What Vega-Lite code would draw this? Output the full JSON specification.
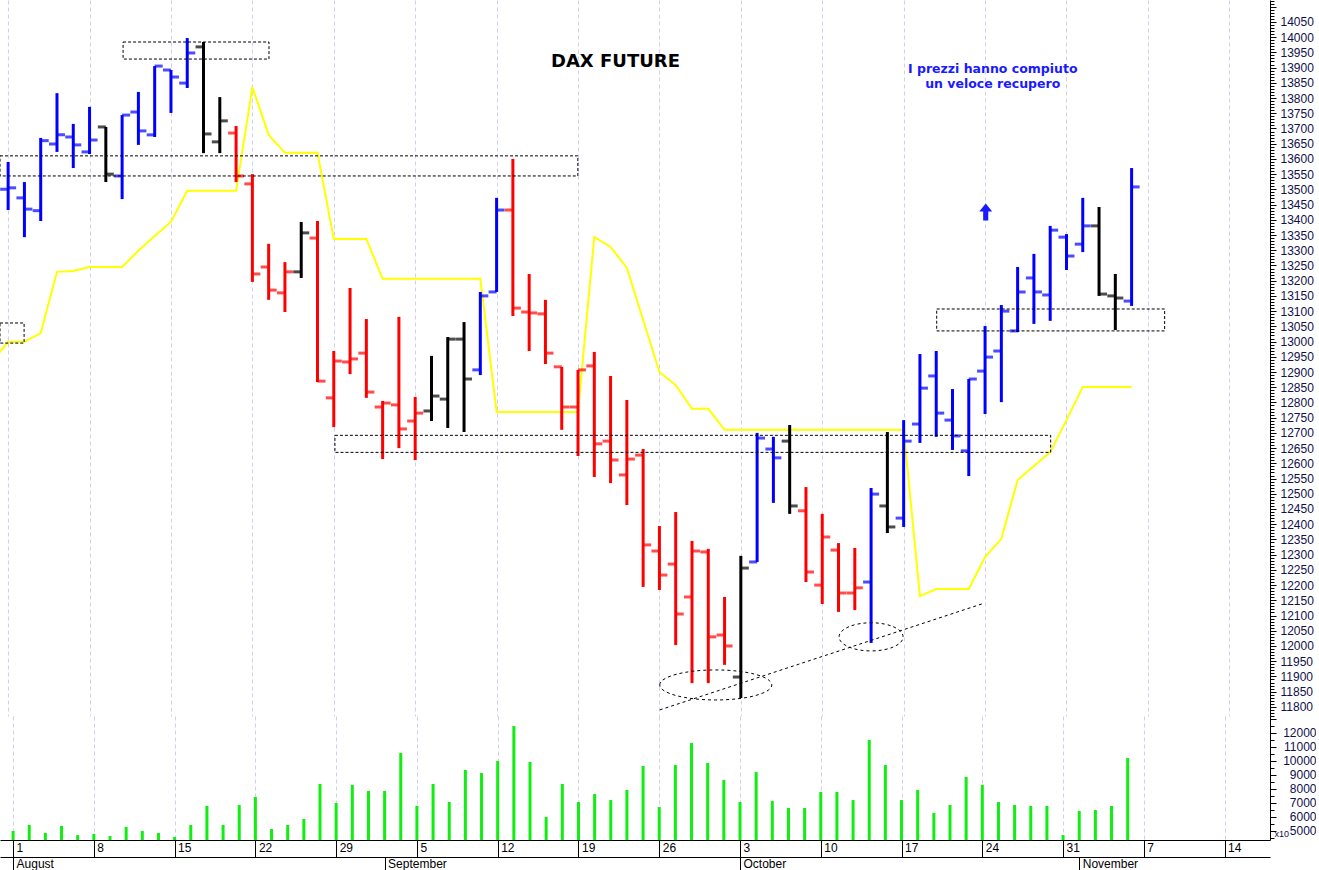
{
  "$schema": "https://vega.github.io/schema/vega-lite/v6.json",
  "padding": 0,
  "spacing": 0,
  "bounds": "flush",
  "background": "white",
  "config": {"view": {"stroke": null}, "axis": {"labelFont": "Liberation Sans", "titleFont": "Liberation Sans"}},
  "datasets": {
    "ohlc": [
      {"i":0,"date":"2022-08-01","o":13500,"h":13590,"l":13432,"c":13505,"t":"blue","v":5000},
      {"i":1,"date":"2022-08-02","o":13472,"h":13524,"l":13343,"c":13435,"t":"blue","v":5430},
      {"i":2,"date":"2022-08-03","o":13430,"h":13669,"l":13396,"c":13660,"t":"blue","v":4860},
      {"i":3,"date":"2022-08-04","o":13649,"h":13816,"l":13623,"c":13679,"t":"blue","v":5360},
      {"i":4,"date":"2022-08-05","o":13672,"h":13715,"l":13570,"c":13646,"t":"blue","v":4710},
      {"i":5,"date":"2022-08-08","o":13623,"h":13771,"l":13616,"c":13662,"t":"blue","v":4790},
      {"i":6,"date":"2022-08-09","o":13705,"h":13705,"l":13524,"c":13550,"t":"black","v":4640},
      {"i":7,"date":"2022-08-10","o":13544,"h":13744,"l":13468,"c":13744,"t":"blue","v":5290},
      {"i":8,"date":"2022-08-11","o":13754,"h":13820,"l":13646,"c":13692,"t":"blue","v":5000},
      {"i":9,"date":"2022-08-12","o":13679,"h":13905,"l":13672,"c":13905,"t":"blue","v":4860},
      {"i":10,"date":"2022-08-15","o":13892,"h":13892,"l":13751,"c":13869,"t":"blue","v":4570},
      {"i":11,"date":"2022-08-16","o":13849,"h":13997,"l":13833,"c":13948,"t":"blue","v":5430},
      {"i":12,"date":"2022-08-17","o":13968,"h":13984,"l":13619,"c":13682,"t":"black","v":6790},
      {"i":13,"date":"2022-08-18","o":13656,"h":13803,"l":13619,"c":13725,"t":"black","v":5430},
      {"i":14,"date":"2022-08-19","o":13685,"h":13708,"l":13524,"c":13544,"t":"red","v":6860},
      {"i":15,"date":"2022-08-22","o":13518,"h":13550,"l":13196,"c":13222,"t":"red","v":7430},
      {"i":16,"date":"2022-08-23","o":13245,"h":13321,"l":13137,"c":13169,"t":"red","v":5140},
      {"i":17,"date":"2022-08-24","o":13160,"h":13261,"l":13097,"c":13229,"t":"red","v":5430},
      {"i":18,"date":"2022-08-25","o":13229,"h":13393,"l":13209,"c":13357,"t":"black","v":5860},
      {"i":19,"date":"2022-08-26","o":13340,"h":13396,"l":12867,"c":12870,"t":"red","v":8360},
      {"i":20,"date":"2022-08-29","o":12815,"h":12969,"l":12719,"c":12936,"t":"red","v":7000},
      {"i":21,"date":"2022-08-30","o":12933,"h":13176,"l":12893,"c":12943,"t":"red","v":8290},
      {"i":22,"date":"2022-08-31","o":12962,"h":13074,"l":12815,"c":12834,"t":"red","v":7860},
      {"i":23,"date":"2022-09-01","o":12785,"h":12805,"l":12614,"c":12798,"t":"red","v":7860},
      {"i":24,"date":"2022-09-02","o":12792,"h":13081,"l":12650,"c":12713,"t":"red","v":10570},
      {"i":25,"date":"2022-09-05","o":12739,"h":12818,"l":12611,"c":12765,"t":"red","v":6790},
      {"i":26,"date":"2022-09-06","o":12772,"h":12953,"l":12739,"c":12821,"t":"black","v":8360},
      {"i":27,"date":"2022-09-07","o":12811,"h":13015,"l":12716,"c":13008,"t":"black","v":7070},
      {"i":28,"date":"2022-09-08","o":13008,"h":13064,"l":12703,"c":12877,"t":"black","v":9360},
      {"i":29,"date":"2022-09-09","o":12907,"h":13163,"l":12890,"c":13150,"t":"blue","v":9140},
      {"i":30,"date":"2022-09-12","o":13163,"h":13472,"l":13163,"c":13432,"t":"blue","v":10000},
      {"i":31,"date":"2022-09-13","o":13432,"h":13600,"l":13084,"c":13110,"t":"red","v":12500},
      {"i":32,"date":"2022-09-14","o":13097,"h":13222,"l":12969,"c":13094,"t":"red","v":9930},
      {"i":33,"date":"2022-09-15","o":13091,"h":13137,"l":12926,"c":12962,"t":"red","v":6000},
      {"i":34,"date":"2022-09-16","o":12917,"h":12917,"l":12710,"c":12785,"t":"red","v":8360},
      {"i":35,"date":"2022-09-19","o":12785,"h":12907,"l":12624,"c":12907,"t":"red","v":7070},
      {"i":36,"date":"2022-09-20","o":12920,"h":12966,"l":12555,"c":12664,"t":"red","v":7640},
      {"i":37,"date":"2022-09-21","o":12673,"h":12887,"l":12535,"c":12611,"t":"red","v":7210},
      {"i":38,"date":"2022-09-22","o":12562,"h":12808,"l":12463,"c":12614,"t":"red","v":7930},
      {"i":39,"date":"2022-09-23","o":12627,"h":12647,"l":12194,"c":12332,"t":"red","v":9640},
      {"i":40,"date":"2022-09-26","o":12312,"h":12394,"l":12184,"c":12233,"t":"red","v":6710},
      {"i":41,"date":"2022-09-27","o":12269,"h":12440,"l":12003,"c":12105,"t":"red","v":9710},
      {"i":42,"date":"2022-09-28","o":12161,"h":12345,"l":11878,"c":12312,"t":"red","v":11290},
      {"i":43,"date":"2022-09-29","o":12309,"h":12319,"l":11878,"c":12030,"t":"red","v":9860},
      {"i":44,"date":"2022-09-30","o":12036,"h":12161,"l":11938,"c":12000,"t":"red","v":8640},
      {"i":45,"date":"2022-10-03","o":11898,"h":12296,"l":11829,"c":12256,"t":"black","v":7070},
      {"i":46,"date":"2022-10-04","o":12276,"h":12700,"l":12276,"c":12683,"t":"blue","v":9210},
      {"i":47,"date":"2022-10-05","o":12647,"h":12687,"l":12470,"c":12618,"t":"blue","v":7140},
      {"i":48,"date":"2022-10-06","o":12673,"h":12726,"l":12434,"c":12460,"t":"black","v":6640},
      {"i":49,"date":"2022-10-07","o":12444,"h":12522,"l":12210,"c":12243,"t":"red","v":6640},
      {"i":50,"date":"2022-10-10","o":12200,"h":12434,"l":12138,"c":12358,"t":"red","v":7790},
      {"i":51,"date":"2022-10-11","o":12315,"h":12338,"l":12112,"c":12174,"t":"red","v":7790},
      {"i":52,"date":"2022-10-12","o":12174,"h":12322,"l":12118,"c":12191,"t":"red","v":7210},
      {"i":53,"date":"2022-10-13","o":12210,"h":12519,"l":12010,"c":12499,"t":"blue","v":11500},
      {"i":54,"date":"2022-10-14","o":12460,"h":12703,"l":12371,"c":12391,"t":"black","v":9710},
      {"i":55,"date":"2022-10-17","o":12420,"h":12742,"l":12391,"c":12673,"t":"blue","v":7210},
      {"i":56,"date":"2022-10-18","o":12729,"h":12959,"l":12667,"c":12847,"t":"blue","v":7930},
      {"i":57,"date":"2022-10-19","o":12887,"h":12969,"l":12687,"c":12765,"t":"blue","v":6290},
      {"i":58,"date":"2022-10-20","o":12742,"h":12844,"l":12644,"c":12690,"t":"blue","v":6860},
      {"i":59,"date":"2022-10-21","o":12641,"h":12877,"l":12558,"c":12877,"t":"blue","v":8860},
      {"i":60,"date":"2022-10-24","o":12903,"h":13051,"l":12762,"c":12949,"t":"blue","v":8290},
      {"i":61,"date":"2022-10-25","o":12969,"h":13120,"l":12801,"c":13100,"t":"blue","v":7070},
      {"i":62,"date":"2022-10-26","o":13035,"h":13245,"l":13031,"c":13163,"t":"blue","v":6860},
      {"i":63,"date":"2022-10-27","o":13209,"h":13288,"l":13058,"c":13163,"t":"blue","v":6790},
      {"i":64,"date":"2022-10-28","o":13153,"h":13380,"l":13068,"c":13366,"t":"blue","v":6790},
      {"i":65,"date":"2022-10-31","o":13343,"h":13353,"l":13235,"c":13281,"t":"blue","v":4710},
      {"i":66,"date":"2022-11-01","o":13320,"h":13472,"l":13294,"c":13380,"t":"blue","v":6430},
      {"i":67,"date":"2022-11-02","o":13380,"h":13442,"l":13150,"c":13156,"t":"black","v":6500},
      {"i":68,"date":"2022-11-03","o":13150,"h":13222,"l":13038,"c":13143,"t":"black","v":6790},
      {"i":69,"date":"2022-11-04","o":13133,"h":13570,"l":13117,"c":13508,"t":"blue","v":10210}
    ],
    "yl": [
      {"i":-1,"y":12933},{"i":0,"y":12999},{"i":1,"y":12999},{"i":2,"y":13028},{"i":3,"y":13229},{"i":4,"y":13232},
      {"i":5,"y":13245},{"i":6,"y":13245},{"i":7,"y":13245},{"i":8,"y":13298},{"i":9,"y":13347},{"i":10,"y":13393},
      {"i":11,"y":13495},{"i":12,"y":13495},{"i":13,"y":13495},{"i":14,"y":13495},{"i":15,"y":13836},{"i":16,"y":13679},
      {"i":17,"y":13620},{"i":18,"y":13620},{"i":19,"y":13620},{"i":20,"y":13337},{"i":21,"y":13337},{"i":22,"y":13337},
      {"i":23,"y":13206},{"i":24,"y":13206},{"i":25,"y":13206},{"i":26,"y":13206},{"i":27,"y":13206},{"i":28,"y":13206},
      {"i":29,"y":13206},{"i":30,"y":12769},{"i":31,"y":12769},{"i":32,"y":12769},{"i":33,"y":12769},{"i":34,"y":12769},
      {"i":35,"y":12769},{"i":36,"y":13344},{"i":37,"y":13311},{"i":38,"y":13242},{"i":39,"y":13071},{"i":40,"y":12900},
      {"i":41,"y":12857},{"i":42,"y":12779},{"i":43,"y":12779},{"i":44,"y":12710},{"i":45,"y":12710},{"i":46,"y":12710},
      {"i":47,"y":12710},{"i":48,"y":12710},{"i":49,"y":12710},{"i":50,"y":12710},{"i":51,"y":12710},{"i":52,"y":12710},
      {"i":53,"y":12710},{"i":54,"y":12710},{"i":55,"y":12710},{"i":56,"y":12164},{"i":57,"y":12187},{"i":58,"y":12187},
      {"i":59,"y":12187},{"i":60,"y":12292},{"i":61,"y":12352},{"i":62,"y":12545},{"i":63,"y":12591},{"i":64,"y":12637},
      {"i":65,"y":12742},{"i":66,"y":12851},{"i":67,"y":12851},{"i":68,"y":12851},{"i":69,"y":12851}
    ],
    "boxes": [
      {"i1":7.06,"i2":16.02,"p1":13984,"p2":13928},
      {"i1":-0.5,"i2":34.99,"p1":13610,"p2":13544},
      {"i1":-0.5,"i2":0.98,"p1":13061,"p2":12995},
      {"i1":20.07,"i2":64.03,"p1":12692,"p2":12636},
      {"i1":57.03,"i2":71.03,"p1":13107,"p2":13035}
    ],
    "trend": [{"i1":40.02,"p1":11790,"i2":59.97,"p2":12141}],
    "ell1": [{"i":43.46,"p":11872}],
    "ell2": [{"i":53.0,"p":12030}],
    "arrow": [{"i":60.04,"p":13426}],
    "title": [{"i":37.3,"p":13918,"txt":"DAX FUTURE"}],
    "note": [
      {"i":60.47,"p":13895,"txt":"I prezzi hanno compiuto"},
      {"i":60.47,"p":13846,"txt":"un veloce recupero"}
    ],
    "months": [{"i":0,"m":"August"},{"i":23,"m":"September"},{"i":45,"m":"October"},{"i":66,"m":"November"}]
  },
  "vconcat": [
    {
      "width": 1270,
      "height": 716,
      "encoding": {
        "x": {"type": "quantitative", "scale": {"domain": [-0.5, 77.5], "nice": false, "zero": false},
              "axis": {"grid": true, "labels": false, "ticks": false, "domain": false, "title": null,
                       "values": [0,5,10,15,20,25,30,35,40,45,50,55,60,65,70,75],
                       "gridColor": "#cfcfee", "gridDash": [4,3], "gridWidth": 1}},
        "y": {"type": "quantitative", "scale": {"domain": [11770, 14122], "nice": false, "zero": false},
              "axis": {"orient": "right", "title": null, "grid": false, "tickCount": 235,
                       "labelExpr": "(datum.value % 50 === 0 && datum.value <= 14050 && datum.value >= 11800) ? format(datum.value, 'd') : ''",
                       "labelOverlap": false, "labelFlush": false, "labelBound": false,
                       "labelFontSize": {"condition": {"test": "datum.value % 50 === 0 && datum.value <= 14050 && datum.value >= 11800", "value": 12}, "value": 0},
                       "tickSize": {"condition": {"test": "datum.value % 50 === 0", "value": 6}, "value": 4},
                       "tickColor": "#000000", "domainColor": "#000000",
                       "labelColor": "#10104a", "labelPadding": 4}}
      },
      "layer": [
        {"data": {"name": "yl"}, "mark": {"type": "line", "color": "#ffff00", "strokeWidth": 2, "clip": true},
         "encoding": {"x": {"field": "i"}, "y": {"field": "y"}}},
        {"data": {"name": "ohlc"}, "mark": {"type": "rule", "strokeWidth": 3},
         "encoding": {"x": {"field": "i"}, "y": {"field": "l"}, "y2": {"field": "h"},
                      "color": {"field": "t", "type": "nominal", "scale": {"domain": ["blue","red","black"], "range": ["#0000ff","#ff0000","#000000"]}, "legend": null}}},
        {"data": {"name": "ohlc"}, "mark": {"type": "tick", "orient": "horizontal", "size": 8, "thickness": 3, "xOffset": -4},
         "encoding": {"x": {"field": "i"}, "y": {"field": "o"},
                      "color": {"field": "t", "type": "nominal", "scale": {"domain": ["blue","red","black"], "range": ["#0000ff","#ff0000","#000000"]}, "legend": null}}},
        {"data": {"name": "ohlc"}, "mark": {"type": "tick", "orient": "horizontal", "size": 8, "thickness": 3, "xOffset": 4},
         "encoding": {"x": {"field": "i"}, "y": {"field": "c"},
                      "color": {"field": "t", "type": "nominal", "scale": {"domain": ["blue","red","black"], "range": ["#0000ff","#ff0000","#000000"]}, "legend": null}}},
        {"data": {"name": "boxes"}, "mark": {"type": "rect", "fillOpacity": 0, "stroke": "#000000", "strokeWidth": 1, "strokeDash": [3,2], "clip": true},
         "encoding": {"x": {"field": "i1"}, "x2": {"field": "i2"}, "y": {"field": "p1"}, "y2": {"field": "p2"}}},
        {"data": {"name": "trend"}, "mark": {"type": "rule", "stroke": "#000000", "strokeWidth": 1, "strokeDash": [3,3]},
         "encoding": {"x": {"field": "i1"}, "x2": {"field": "i2"}, "y": {"field": "p1"}, "y2": {"field": "p2"}}},
        {"data": {"name": "ell1"}, "mark": {"type": "point", "shape": "M -1 0 A 1 0.268 0 1 1 1 0 A 1 0.268 0 1 1 -1 0 Z", "size": 12544, "filled": false, "stroke": "#000000", "strokeWidth": 1, "strokeDash": [3,3], "opacity": 1},
         "encoding": {"x": {"field": "i"}, "y": {"field": "p"}}},
        {"data": {"name": "ell2"}, "mark": {"type": "point", "shape": "M -1 0 A 1 0.44 0 1 1 1 0 A 1 0.44 0 1 1 -1 0 Z", "size": 4096, "filled": false, "stroke": "#000000", "strokeWidth": 1, "strokeDash": [3,3], "opacity": 1},
         "encoding": {"x": {"field": "i"}, "y": {"field": "p"}}},
        {"data": {"name": "arrow"}, "mark": {"type": "point", "shape": "M -0.3 1 L 0.3 1 L 0.3 -0.05 L 0.76 -0.05 L 0 -1 L -0.76 -0.05 L -0.3 -0.05 Z", "size": 289, "filled": true, "fill": "#1a1aff", "opacity": 1},
         "encoding": {"x": {"field": "i"}, "y": {"field": "p"}}},
        {"data": {"name": "title"}, "mark": {"type": "text", "font": "DejaVu Sans", "fontWeight": "bold", "fontSize": 18, "color": "#000000", "align": "center", "baseline": "middle"},
         "encoding": {"x": {"field": "i"}, "y": {"field": "p"}, "text": {"field": "txt"}}},
        {"data": {"name": "note"}, "mark": {"type": "text", "font": "DejaVu Sans", "fontWeight": "bold", "fontSize": 12.5, "color": "#1a1aff", "align": "center", "baseline": "middle"},
         "encoding": {"x": {"field": "i"}, "y": {"field": "p"}, "text": {"field": "txt"}}}
      ]
    },
    {
      "width": 1270,
      "height": 124,
      "resolve": {"axis": {"x": "independent"}},
      "layer": [
        {"data": {"name": "ohlc"}, "mark": {"type": "bar", "orient": "vertical", "color": "#11ee11", "size": 3, "clip": true},
         "encoding": {
           "x": {"field": "i", "type": "quantitative", "scale": {"domain": [-0.5, 77.5], "nice": false, "zero": false},
                 "axis": {"orient": "bottom", "title": null, "values": [0,5,10,15,20,25,30,35,40,45,50,55,60,65,70,75],
                          "labelExpr": "['1','8','15','22','29','5','12','19','26','3','10','17','24','31','7','14'][round(datum.value/5)]",
                          "grid": true, "gridColor": "#cfcfee", "gridDash": [4,3], "gridWidth": 1,
                          "tickSize": 17, "tickColor": "#000000", "domainColor": "#000000",
                          "labelAlign": "left", "labelBaseline": "top", "labelPadding": -15, "labelOffset": 3,
                          "labelFontSize": 12, "labelColor": "#000000", "labelOverlap": false, "labelFlush": false, "labelBound": false}},
           "y": {"field": "v", "type": "quantitative", "scale": {"domain": [4357, 13214], "nice": false, "zero": false},
                 "axis": {"orient": "right", "title": "x10", "titleAngle": 0, "titleAlign": "left", "titleBaseline": "middle",
                          "titleX": 4, "titleY": 117, "titleFontSize": 9, "titleFontWeight": "normal", "titleColor": "#10104a",
                          "grid": false, "tickCount": 18,
                          "labelExpr": "(datum.value % 1000 === 0 && datum.value <= 12000 && datum.value >= 5000) ? format(datum.value, 'd') : ''",
                          "labelFontSize": {"condition": {"test": "datum.value % 1000 === 0 && datum.value <= 12000 && datum.value >= 5000", "value": 12}, "value": 0},
                          "labelOverlap": false, "labelFlush": false, "labelBound": false,
                          "tickSize": {"condition": {"test": "datum.value % 1000 === 0", "value": 6}, "value": 4},
                          "tickColor": "#000000", "domainColor": "#000000",
                          "labelAlign": "right", "labelColor": "#10104a", "labelPadding": 40}}
         }},
        {"data": {"name": "months"}, "mark": {"type": "point", "opacity": 0},
         "encoding": {
           "x": {"field": "i", "type": "quantitative", "scale": {"domain": [-0.5, 77.5], "nice": false, "zero": false},
                 "axis": {"orient": "bottom", "offset": 17, "title": null, "values": [0,23,45,66],
                          "labelExpr": "datum.value == 0 ? 'August' : datum.value == 23 ? 'September' : datum.value == 45 ? 'October' : 'November'",
                          "grid": false, "tickSize": 13, "tickColor": "#000000", "domainColor": "#000000",
                          "labelAlign": "left", "labelBaseline": "top", "labelPadding": -12, "labelOffset": 3,
                          "labelFontSize": 12, "labelColor": "#000000", "labelOverlap": false, "labelFlush": false, "labelBound": false}}
         }}
      ]
    }
  ]
}
